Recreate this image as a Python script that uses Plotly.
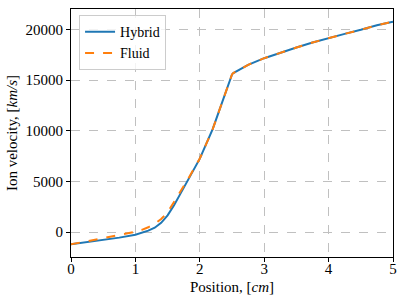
import plotly.graph_objects as go

x_hybrid = [0, 0.25, 0.5, 0.75, 1.0, 1.1, 1.2, 1.3, 1.4, 1.5, 1.6, 1.7, 1.8, 1.9, 2.0,
            2.1, 2.2, 2.3, 2.4, 2.5, 2.52, 2.6, 2.75, 3.0, 3.25, 3.5, 3.75, 4.0, 4.25,
            4.5, 4.75, 5.0]
v_hybrid = [-1200, -1000, -780, -540, -250, -70, 150, 440, 920, 1650, 2650, 3800, 5000,
            6100, 7250, 8700, 10150, 11950, 13800, 15550, 15680, 15950, 16500, 17150,
            17700, 18200, 18700, 19150, 19550, 19950, 20400, 20750]

x_fluid = x_hybrid
v_fluid = [-1200, -900, -600, -330, 30, 230, 480, 820, 1300, 1950, 2950, 4000, 5050,
           6150, 7250, 8700, 10150, 11950, 13800, 15550, 15680, 15950, 16500, 17150,
           17700, 18200, 18700, 19150, 19550, 19950, 20400, 20750]

x_ticks = [0, 1, 2, 3, 4, 5]
y_ticks = [0, 5000, 10000, 15000, 20000]
y_tick_labels = ["0", "5000", "10000", "15000", "20000"]

font = "Liberation Serif, DejaVu Serif, serif"

fig = go.Figure()
fig.add_trace(go.Scatter(x=x_hybrid, y=v_hybrid, mode="lines", name="Hybrid",
                         line=dict(color="#1f77b4", width=2)))
fig.add_trace(go.Scatter(x=x_fluid, y=v_fluid, mode="lines", name="Fluid",
                         line=dict(color="#ff7f0e", width=2, dash="dash")))

axis_common = dict(showgrid=True, gridcolor="#c0c0c0", griddash="dash", gridwidth=0.8,
                   showline=True, linecolor="black", linewidth=1, mirror=True,
                   ticks="outside", ticklen=4, tickcolor="black", zeroline=False,
                   automargin=False,
                   tickfont=dict(family=font, size=15, color="black"))

fig.update_layout(
    width=407, height=305,
    margin=dict(l=71, r=14, t=9, b=48),
    plot_bgcolor="white", paper_bgcolor="white",
    font=dict(family=font, size=15, color="black"),
    xaxis=dict(range=[0, 5], tickvals=x_ticks, ticklabelstandoff=-6,
               title=dict(text="Position, [<i>cm</i>]", font=dict(family=font, size=15), standoff=5),
               **axis_common),
    yaxis=dict(range=[-2450, 22000], tickvals=y_ticks, ticktext=y_tick_labels,
               title=dict(text="Ion velocity, [<i>km/s</i>]", font=dict(family=font, size=15), standoff=4),
               **axis_common),
    legend=dict(x=0.025, y=0.975, xanchor="left", yanchor="top",
                bgcolor="rgba(255,255,255,0.8)", bordercolor="#cccccc", borderwidth=1,
                font=dict(family=font, size=14), tracegroupgap=0),
    showlegend=True,
)

fig.write_html("out.html", config={"displayModeBar": False},
               post_script="document.body.style.margin='0';document.body.style.padding='0';")
